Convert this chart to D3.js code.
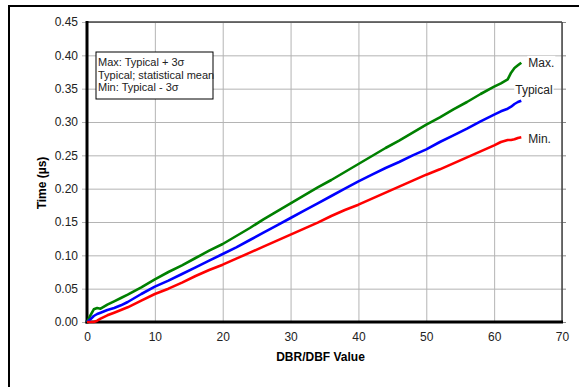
<!DOCTYPE html>
<html>
<head>
<meta charset="utf-8">
<script src="https://cdn.jsdelivr.net/npm/d3@7"></script>
<style>
  body { margin: 0; background: #fff; }
  text { font-family: Arial, "Liberation Sans", sans-serif; }
</style>
</head>
<body>
<svg id="chart" width="579" height="387"></svg>
<script>
// DBR/DBF value (x)
const xValues = [0, 0.5, 1, 1.5, 2, 3, 4, 5, 6, 8, 10, 12, 14, 16, 18, 20, 22, 24, 26, 28, 30,
  32, 34, 36, 38, 40, 42, 44, 46, 48, 50, 52, 54, 56, 58, 60, 61, 62, 62.5, 63, 63.5, 64];

// time in microseconds
const maxValues = [0, 0.010, 0.019, 0.021, 0.020, 0.026, 0.031, 0.036, 0.041, 0.052, 0.064,
  0.075, 0.085, 0.096, 0.107, 0.117, 0.129, 0.141, 0.154, 0.166, 0.178, 0.190, 0.202, 0.213,
  0.225, 0.237, 0.249, 0.261, 0.272, 0.284, 0.296, 0.307, 0.319, 0.330, 0.342, 0.353, 0.358,
  0.364, 0.374, 0.381, 0.385, 0.389];
const typicalValues = [0, 0.004, 0.009, 0.012, 0.014, 0.018, 0.021, 0.025, 0.030, 0.042, 0.053,
  0.062, 0.072, 0.082, 0.092, 0.102, 0.112, 0.123, 0.134, 0.145, 0.156, 0.167, 0.178, 0.189,
  0.200, 0.211, 0.221, 0.231, 0.240, 0.250, 0.259, 0.270, 0.280, 0.290, 0.301, 0.311, 0.316,
  0.320, 0.323, 0.327, 0.330, 0.332];
const minValues = [0, 0, 0, 0.002, 0.005, 0.010, 0.014, 0.018, 0.022, 0.032, 0.042,
  0.050, 0.059, 0.069, 0.078, 0.086, 0.095, 0.104, 0.113, 0.122, 0.131, 0.140, 0.149, 0.159,
  0.168, 0.176, 0.185, 0.194, 0.203, 0.212, 0.221, 0.229, 0.238, 0.247, 0.256, 0.265, 0.270,
  0.273, 0.273, 0.274, 0.276, 0.277];

const xTicks = [0, 10, 20, 30, 40, 50, 60, 70];
const yTicks = [0, 0.05, 0.10, 0.15, 0.20, 0.25, 0.30, 0.35, 0.40, 0.45];
const legendLines = ["Max: Typical + 3\u03c3", "Typical; statistical mean", "Min: Typical - 3\u03c3"];

const series = [
  { name: "Max.", values: maxValues, color: "#008000", dx: 7, dy: 0 },
  { name: "Typical", values: typicalValues, color: "#0000ff", dx: -6, dy: -11 },
  { name: "Min.", values: minValues, color: "#ff0000", dx: 7, dy: 1 }
];

let margin = { top: 22, right: 17, bottom: 65, left: 87 };
let width = 579 - margin.left - margin.right;
let height = 387 - margin.top - margin.bottom;

let svg = d3.select("#chart");

// outer frame, only top and left edges fall inside the picture
svg.append("rect")
    .attr("x", 9).attr("y", 6)
    .attr("width", 800).attr("height", 600)
    .attr("fill", "none")
    .attr("stroke", "#000")
    .attr("stroke-width", 2);

let chart = svg.append("g")
    .attr("transform", `translate(${margin.left},${margin.top})`);

let x = d3.scaleLinear().domain([0, 70]).range([0, width]);
let y = d3.scaleLinear().domain([0, 0.45]).range([height, 0]);

// gridlines
chart.append("g")
    .attr("class", "grid")
    .call(d3.axisLeft(y).tickValues(yTicks).tickSize(-width).tickFormat(""))
    .call(g => g.select(".domain").remove())
    .selectAll("line").attr("stroke", "#b4b4b4");

chart.append("g")
    .attr("class", "grid")
    .attr("transform", `translate(0,${height})`)
    .call(d3.axisBottom(x).tickValues(xTicks).tickSize(-height).tickFormat(""))
    .call(g => g.select(".domain").remove())
    .selectAll("line").attr("stroke", "#b4b4b4");

// y axis with short outside ticks
let yAxis = chart.append("g")
    .call(d3.axisLeft(y).tickValues(yTicks).tickSize(5).tickPadding(4).tickFormat(d3.format(".2f")));
yAxis.select(".domain").remove();
yAxis.selectAll("line").attr("stroke", "#b4b4b4");
yAxis.selectAll("text").attr("font-size", 12).attr("fill", "#222").style("font-family", "Arial, 'Liberation Sans'");

// right side ticks
chart.append("g")
    .attr("transform", `translate(${width},0)`)
    .call(d3.axisRight(y).tickValues(yTicks).tickSize(4).tickFormat(""))
    .call(g => g.select(".domain").remove())
    .selectAll("line").attr("stroke", "#888");

let xAxis = chart.append("g")
    .attr("transform", `translate(0,${height})`)
    .call(d3.axisBottom(x).tickValues(xTicks).tickSize(0).tickPadding(10));
xAxis.select(".domain").remove();
xAxis.selectAll("text").attr("font-size", 12).attr("fill", "#222").style("font-family", "Arial, 'Liberation Sans'");

// plot borders
chart.append("line").attr("x1", 0).attr("x2", width).attr("y1", 0).attr("y2", 0)
    .attr("stroke", "#444").attr("stroke-width", 1.5);
chart.append("line").attr("x1", width).attr("x2", width).attr("y1", 0).attr("y2", height)
    .attr("stroke", "#444").attr("stroke-width", 1.5);
chart.append("line").attr("x1", 0).attr("x2", 0).attr("y1", -1).attr("y2", height + 1.5)
    .attr("stroke", "#000").attr("stroke-width", 3);
chart.append("line").attr("x1", -1.5).attr("x2", width + 1).attr("y1", height).attr("y2", height)
    .attr("stroke", "#000").attr("stroke-width", 3);

// lines
let line = d3.line()
    .x((d, i) => x(xValues[i]))
    .y(d => y(d));

series.forEach(s => {
  chart.append("path")
      .datum(s.values)
      .attr("fill", "none")
      .attr("stroke", s.color)
      .attr("stroke-width", 2.6)
      .attr("stroke-linejoin", "round")
      .attr("d", line);
});

// end labels with white boxes over the grid
series.forEach(s => {
  let last = s.values.length - 1;
  let g = chart.append("g");
  let t = g.append("text")
      .attr("x", x(xValues[last]) + s.dx)
      .attr("y", y(s.values[last]) + s.dy)
      .attr("dy", "0.35em")
      .attr("font-size", 12)
      .attr("fill", "#222")
      .text(s.name);
  let bb = t.node().getBBox();
  g.insert("rect", "text")
      .attr("x", bb.x - 1).attr("y", bb.y)
      .attr("width", bb.width + 2).attr("height", bb.height)
      .attr("fill", "#fff");
});

// legend box
let legend = chart.append("g").attr("transform", "translate(9,30)");
legend.append("rect")
    .attr("width", 117).attr("height", 47)
    .attr("fill", "#fff")
    .attr("stroke", "#000")
    .attr("stroke-width", 1);
legend.selectAll(".leg")
    .data(legendLines)
  .enter().append("text")
    .attr("x", 2)
    .attr("y", (d, i) => 14 + i * 12.5)
    .attr("font-size", 11)
    .attr("fill", "#222")
    .text(d => d);

// axis titles
svg.append("text")
    .attr("x", margin.left + x(35) - 4)
    .attr("y", 361)
    .attr("text-anchor", "middle")
    .attr("font-size", 12)
    .attr("font-weight", "bold")
    .text("DBR/DBF Value");

svg.append("text")
    .attr("transform", "translate(46,183) rotate(-90)")
    .attr("text-anchor", "middle")
    .attr("font-size", 12)
    .attr("font-weight", "bold")
    .text("Time (\u00b5s)");
</script>
</body>
</html>
